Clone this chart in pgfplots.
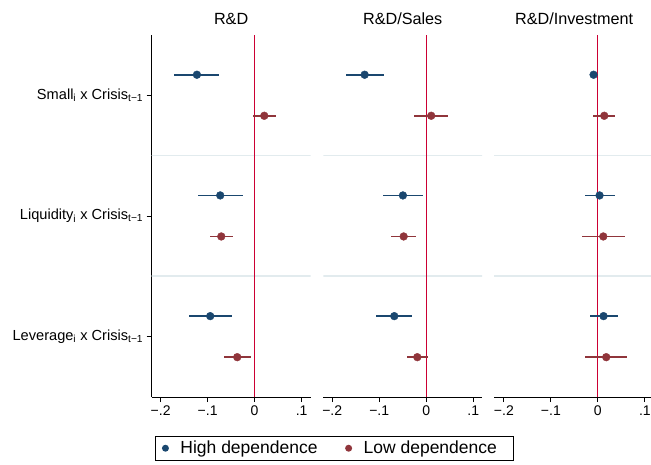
\documentclass[border=0pt]{standalone}
\usepackage{pgfplots}
\usepackage{pgfplotstable}
\pgfplotsset{compat=1.18}
\usepackage{fontspec}
\setmainfont{Liberation Sans}

\definecolor{hinavy}{RGB}{26,71,111}
\definecolor{lomaroon}{RGB}{144,53,59}
\definecolor{zeroline}{RGB}{204,0,51}
\definecolor{gridblue}{RGB}{226,235,238}

% columns: estimate, row position, lower and upper CI
\pgfplotstableread{
x       y     lo       hi
-0.1228 3.17 -0.1711 -0.0757
-0.0732 2.17 -0.1206 -0.0249
-0.0945 1.17 -0.1390 -0.0490
}\rdhigh
\pgfplotstableread{
x       y     lo       hi
 0.0205 2.83 -0.0030  0.0447
-0.0710 1.83 -0.0945 -0.0468
-0.0370 0.83 -0.0647 -0.0085
}\rdlow
\pgfplotstableread{
x       y     lo       hi
-0.1310 3.17 -0.1715 -0.0906
-0.0496 2.17 -0.0920 -0.0077
-0.0680 1.17 -0.1060 -0.0298
}\salhigh
\pgfplotstableread{
x       y     lo       hi
 0.0106 2.83 -0.0260  0.0468
-0.0480 1.83 -0.0750 -0.0220
-0.0190 0.83 -0.0410  0.0036
}\sallow
\pgfplotstableread{
x       y     lo       hi
-0.0091 3.17 -0.0120 -0.0060
 0.0036 2.17 -0.0280  0.0355
 0.0121 1.17 -0.0170  0.0425
}\invhigh
\pgfplotstableread{
x       y     lo       hi
 0.0136 2.83 -0.0106  0.0370
 0.0115 1.83 -0.0340  0.0574
 0.0178 0.83 -0.0277  0.0625
}\invlow

\pgfplotsset{
  coefpanel/.style={
    x=470pt, y=120.7pt,
    xmin=-0.219, xmax=0.119, ymin=0.5, ymax=3.5,
    axis x line*=bottom,
    axis line style={black, line width=0.9pt},
    xtick={-0.2,-0.1,0,0.1},
    xticklabels={−.2,−.1,0,.1},
    tick align=outside, major tick length=5pt,
    tick style={black, line width=0.9pt},
    xticklabel style={font=\fontsize{14}{16}\selectfont},
    title style={font=\fontsize{16.2}{19}\selectfont, at={(0.5,1)}, anchor=base, yshift=4pt},
  },
  ciplot/.style={#1, only marks, mark=*, mark size=3.9pt,
    error bars/.cd, x dir=both, x explicit, error mark=none,
    error bar style={line width=1.8pt, #1}},
}

\newcommand{\cipanel}[2]{%
  \addplot[gridblue, line width=1.8pt, forget plot] coordinates {(-0.3,1.5) (0.2,1.5)};
  \addplot[gridblue, line width=1.8pt, forget plot] coordinates {(-0.3,2.5) (0.2,2.5)};
  \addplot[zeroline, line width=1.2pt, forget plot] coordinates {(0,0.5) (0,3.5)};
  \addplot[ciplot=hinavy] table[x=x, y=y,
    x error plus expr=\thisrow{hi}-\thisrow{x},
    x error minus expr=\thisrow{x}-\thisrow{lo}] {#1};
  \addplot[ciplot=lomaroon] table[x=x, y=y,
    x error plus expr=\thisrow{hi}-\thisrow{x},
    x error minus expr=\thisrow{x}-\thisrow{lo}] {#2};
}

\begin{document}
\begin{tikzpicture}
\useasboundingbox (0,0) rectangle (651pt,464pt);
\clip (0,0) rectangle (651pt,464pt);

\begin{axis}[coefpanel,
    at={(151.7pt,67pt)}, anchor=south west,
    axis y line*=left,
    title={R\&D},
    ytick={1,2,3},
    yticklabels={Leverage\textsubscript{i} x Crisis\textsubscript{t−1},
                 Liquidity\textsubscript{i} x Crisis\textsubscript{t−1},
                 Small\textsubscript{i} x Crisis\textsubscript{t−1}},
    yticklabel style={font=\fontsize{14.6}{17}\selectfont},
    legend columns=2,
    legend image code/.code={\path[draw=none, fill=none] (0pt,-3pt) rectangle (21pt,3pt);
      \fill[#1, draw=none] (8pt,0pt) circle (3.5pt);},
    legend style={at={(axis description cs:0.021,-0.107)}, anchor=north west,
      draw=black, line width=0.8pt, font=\fontsize{17.5}{21}\selectfont,
      inner xsep=2pt, inner ysep=3pt,
      /tikz/every even column/.append style={column sep=21pt}},
  ]
  \cipanel{\rdhigh}{\rdlow}
  \legend{High dependence, Low dependence\rule{12pt}{0pt}}
\end{axis}

\begin{axis}[coefpanel,
    at={(323.3pt,67pt)}, anchor=south west,
    axis y line=none, ytick=\empty,
    title={R\&D/Sales},
  ]
  \cipanel{\salhigh}{\sallow}
\end{axis}

\begin{axis}[coefpanel,
    at={(494pt,67pt)}, anchor=south west,
    xmin=-0.221, xmax=0.12,
    axis y line=none, ytick=\empty,
    title={R\&D/Investment},
  ]
  \cipanel{\invhigh}{\invlow}
\end{axis}
\end{tikzpicture}
\end{document}
